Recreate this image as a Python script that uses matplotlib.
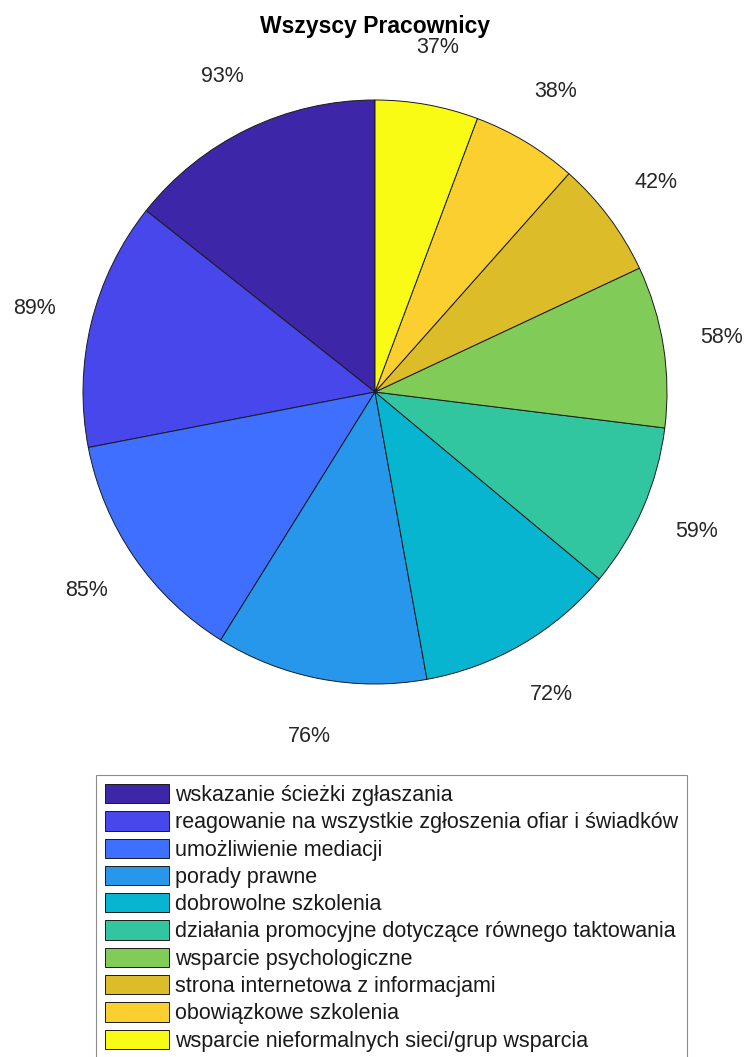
import matplotlib
matplotlib.use("Agg")
import matplotlib.pyplot as plt

plt.rcParams['font.family'] = ['Liberation Sans', 'DejaVu Sans']

categories = [
    "wskazanie ścieżki zgłaszania",
    "reagowanie na wszystkie zgłoszenia ofiar i świadków",
    "umożliwienie mediacji",
    "porady prawne",
    "dobrowolne szkolenia",
    "działania promocyjne dotyczące równego taktowania",
    "wsparcie psychologiczne",
    "strona internetowa z informacjami",
    "obowiązkowe szkolenia",
    "wsparcie nieformalnych sieci/grup wsparcia",
]
values = [93, 89, 85, 76, 72, 59, 58, 42, 38, 37]
labels = [f"{v}%" for v in values]

# parula(10)
colors = [
    (0.2422, 0.1504, 0.6603),
    (0.2803, 0.2782, 0.9221),
    (0.2440, 0.4358, 0.9988),
    (0.1540, 0.5902, 0.9218),
    (0.0297, 0.7082, 0.8163),
    (0.1938, 0.7758, 0.6251),
    (0.5044, 0.7993, 0.3480),
    (0.8634, 0.7406, 0.1596),
    (0.9892, 0.8136, 0.1885),
    (0.9769, 0.9839, 0.0805),
]

W, H = 745, 1057
fig = plt.figure(figsize=(W / 100, H / 100), dpi=100)

cx, cy, r = 375, 392, 292
ax = fig.add_axes([(cx - r) / W, (H - cy - r) / H, 2 * r / W, 2 * r / H])

wedges, texts = ax.pie(
    values, labels=labels, colors=colors, startangle=90, counterclock=True,
    labeldistance=1.2,
    wedgeprops=dict(edgecolor='#1a1a1a', linewidth=0.7),
    textprops=dict(fontsize=15.5, color='#262626'),
)
for t in texts:
    t.set_ha('center')
    t.set_va('center')
ax.set_xlim(-1, 1)
ax.set_ylim(-1, 1)
ax.set_aspect('auto')
ax.axis('off')

fig.text(cx / W, 1 - 27 / H, "Wszyscy Pracownicy", ha='center', va='center',
         fontsize=16.5, fontweight='bold', color='black')

leg = fig.legend(
    wedges, categories, loc='upper left',
    bbox_to_anchor=(96 / W, 1 - 775 / H),
    fontsize=15.5, frameon=True, fancybox=False,
    edgecolor='#8c8c8c', framealpha=1,
    handlelength=2.95, handleheight=1.0, handletextpad=0.3,
    labelspacing=0.245, borderpad=0.42, borderaxespad=0,
)
leg.get_frame().set_linewidth(0.8)
for txt in leg.get_texts():
    txt.set_color('#1a1a1a')

fig.savefig("out.png", dpi=100)
